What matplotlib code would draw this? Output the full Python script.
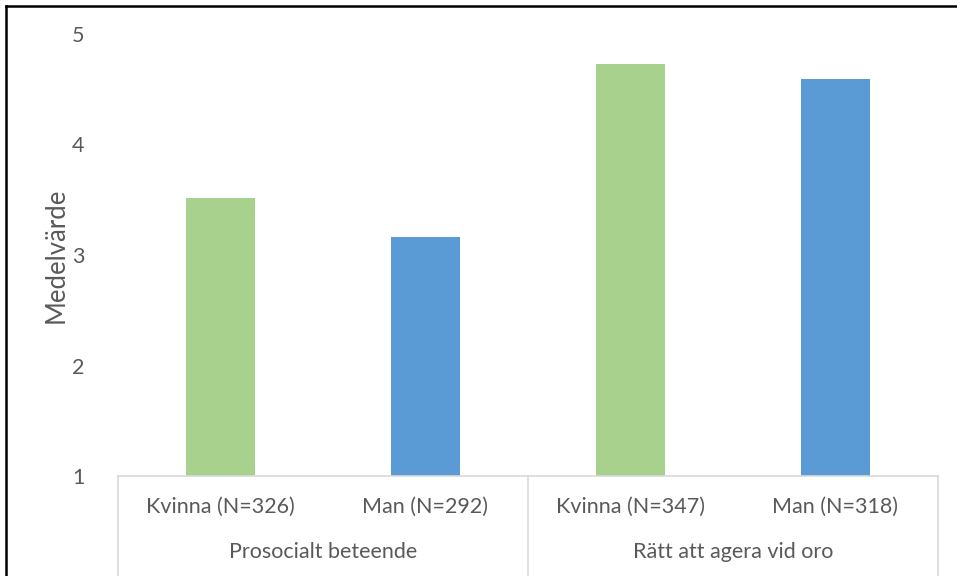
import matplotlib
matplotlib.use("Agg")
import matplotlib.pyplot as plt
from matplotlib.transforms import blended_transform_factory
from matplotlib.lines import Line2D

plt.rcParams['font.family'] = ['Lato', 'DejaVu Sans']

groups = ["Prosocialt beteende", "Rätt att agera vid oro"]
categories = ["Kvinna (N=326)", "Man (N=292)", "Kvinna (N=347)", "Man (N=318)"]
values = [3.52, 3.16, 4.73, 4.59]
bar_colors = ["#A9D18E", "#5B9BD5", "#A9D18E", "#5B9BD5"]
yticks = [1, 2, 3, 4, 5]

W, H = 957, 576
fig = plt.figure(figsize=(W / 100, H / 100), dpi=100)
ax = fig.add_axes([118 / W, 1 - 476 / H, (938 - 118) / W, (476 - 34) / H])

x = list(range(len(categories)))
ax.bar(x, [v - 1 for v in values], bottom=1, width=0.335, color=bar_colors)
ax.set_xlim(-0.5, len(categories) - 0.5)
ax.set_ylim(1, 5)
ax.set_yticks(yticks)
ax.set_yticklabels([str(t) for t in yticks])
ax.tick_params(axis='y', length=0, pad=24, labelsize=15.5, labelcolor="#595959")
ax.set_xticks([])
for s in ["top", "right", "left"]:
    ax.spines[s].set_visible(False)
ax.spines["bottom"].set_color("#D9D9D9")
ax.spines["bottom"].set_linewidth(1.2)

ax.set_ylabel("Medelvärde", fontsize=18.5, color="#595959", va="center")
ax.yaxis.set_label_coords((56 - 118) / (938 - 118), 0.5)

tr = blended_transform_factory(ax.transData, ax.transAxes)
below = -(H - 476) / (476 - 34)  # axes y at figure bottom
for sep in [-0.5, 1.5, 3.5]:
    ax.plot([sep, sep], [0, below], transform=tr, color="#D9D9D9", lw=1.2, clip_on=False)

lab_y = -(507 - 476) / (476 - 34)
grp_y = -(552 - 476) / (476 - 34)
for xi, c in zip(x, categories):
    ax.text(xi, lab_y, c, transform=tr, ha="center", va="center", fontsize=15.5, color="#595959")
for gi, g in enumerate(groups):
    ax.text(gi * 2 + 0.5, grp_y, g, transform=tr, ha="center", va="center", fontsize=15.5, color="#595959")

# outer frame (left and top edges)
fig.add_artist(Line2D([6 / W, 6 / W], [0, 1 - 6 / H], transform=fig.transFigure, color="black", lw=1.8))
fig.add_artist(Line2D([6 / W, 1], [1 - 6 / H, 1 - 6 / H], transform=fig.transFigure, color="black", lw=1.8))

fig.savefig("out.png", dpi=100)
